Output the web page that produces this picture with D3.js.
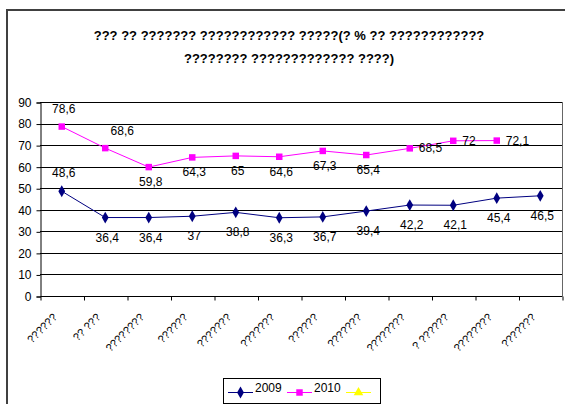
<!DOCTYPE html>
<html><head><meta charset="utf-8">
<script src="https://cdn.jsdelivr.net/npm/d3@7"></script>
<style>body{margin:0;background:#fff}svg{display:block}text{font-family:Arial,"Liberation Sans",sans-serif}</style>
</head><body>
<script>
const titleLines = ["??? ?? ??????? ???????????? ?????(? % ?? ????????????", "???????? ????????????? ????)"];
const categories = ["??????", "?? ???", "????????", "??????", "???????", "???????", "??????", "???????", "????????", "? ??????", "????????", "???????"];
const seriesNames = ["2009", "2010", ""];
const values2009 = [48.6, 36.4, 36.4, 37, 38.8, 36.3, 36.7, 39.4, 42.2, 42.1, 45.4, 46.5];
const values2010 = [78.6, 68.6, 59.8, 64.3, 65, 64.6, 67.3, 65.4, 68.5, 72, 72.1, null];
const values3 = [];
const place2009 = ["above","below","below","below","below","below","below","below","below","below","below","below"];
const place2010 = ["above","aboveright","below","below","below","below","below","below","right","right","right",null];
const yTicks = [0,10,20,30,40,50,60,70,80,90];

const W = 565, H = 404;
const svg = d3.select("body").append("svg").attr("width", W).attr("height", H);
// outer chart border
svg.append("rect").attr("x", 7).attr("y", 10).attr("width", 600).attr("height", 450)
  .attr("fill", "#fff").attr("stroke", "#404040").attr("stroke-width", 2);

svg.selectAll("text.title").data(titleLines).enter().append("text")
  .attr("x", 289).attr("y", (d,i) => 40 + i*23).attr("text-anchor", "middle")
  .attr("font-weight", "bold").attr("font-size", 13).text(d => d);

const x0 = 40, x1 = 562, yTop = 102, yBot = 296;
const x = d3.scaleBand().domain(categories.map((d,i)=>i)).range([x0, x1]);
const y = d3.scaleLinear().domain([0, 90]).range([yBot, yTop]);
const cx = i => x(i) + x.bandwidth()/2;

// gridlines
svg.append("g").selectAll("line").data(yTicks.filter(t=>t>0)).enter().append("line")
  .attr("x1", x0).attr("x2", x1).attr("y1", d => Math.round(y(d))+0.5).attr("y2", d => Math.round(y(d))+0.5)
  .attr("stroke", "#000").attr("stroke-width", 1);
// right plot border
svg.append("line").attr("x1", x1+0.5).attr("x2", x1+0.5).attr("y1", yTop).attr("y2", yBot)
  .attr("stroke", "#666");

// y axis
const yAxis = d3.axisLeft(y).tickValues(yTicks).tickSize(4).tickPadding(5);
const gy = svg.append("g").attr("transform", `translate(${x0+0.5},0.5)`).call(yAxis);
gy.selectAll("text").attr("font-size", 12).attr("fill", "#000").attr("font-family", "Arial, 'Liberation Sans', sans-serif");
gy.selectAll("line,path").attr("stroke", "#000");

// x axis
const xt = d3.scaleLinear().domain([0, 12]).range([x0, x1]);
const xAxis = d3.axisBottom(xt).tickValues(d3.range(13)).tickSize(4).tickFormat("");
const gx = svg.append("g").attr("transform", `translate(0.5,${Math.round(yBot)+0.5})`).call(xAxis);
gx.selectAll("line,path").attr("stroke", "#000");
gx.select("path").attr("d", `M${x0},0H${x1}`);

svg.append("g").selectAll("text").data(categories).enter().append("text")
  .attr("transform", (d,i) => `translate(${cx(i)-4},318) rotate(-45)`)
  .attr("text-anchor", "end").attr("font-size", 11).attr("fill", "#000").text(d => d);

const colors = ["#000080", "#FF00FF", "#FFFF00"];
const line = d3.line().defined(d => d != null).x((d,i) => cx(i)).y(d => y(d));
const diamond = d3.symbol().type(d3.symbolDiamond).size(40);
const square = d3.symbol().type(d3.symbolSquare).size(42);
const tri = d3.symbol().type(d3.symbolTriangle).size(40);

function drawSeries(vals, color, sym) {
  svg.append("path").datum(vals).attr("d", line).attr("fill", "none").attr("stroke", color).attr("stroke-width", 1);
  svg.append("g").selectAll("path").data(vals.map((v,i)=>({v,i})).filter(d=>d.v!=null)).enter().append("path")
    .attr("d", sym).attr("transform", d => `translate(${cx(d.i)},${y(d.v)})`).attr("fill", color);
}
drawSeries(values2009, colors[0], diamond);
drawSeries(values2010, colors[1], square);

const fmt = v => String(v).replace(".", ",");
function drawLabels(vals, places, belowOff) {
  svg.append("g").selectAll("text").data(vals.map((v,i)=>({v,i,p:places[i]})).filter(d=>d.v!=null)).enter().append("text")
    .attr("font-size", 12).attr("fill", "#000")
    .attr("text-anchor", d => d.p === "right" ? "start" : "middle")
    .attr("x", d => {
      const px = cx(d.i);
      if (d.p === "right") return px + 9;
      if (d.p === "aboveright") return px + 17;
      return px + 2;
    })
    .attr("y", d => {
      const py = y(d.v);
      if (d.p === "above") return py - 14;
      if (d.p === "aboveright") return py - 13;
      if (d.p === "right") return py + 4;
      return py + belowOff + 4;
    })
    .text(d => fmt(d.v));
}
drawLabels(values2009, place2009, 20);
drawLabels(values2010, place2010, 15);

// legend
const lg = svg.append("g");
lg.append("rect").attr("x", 223.5).attr("y", 378.5).attr("width", 157).attr("height", 25)
  .attr("fill", "#fff").attr("stroke", "#000");
const legX = [228, 287, 346];
const syms = [diamond, square, tri];
seriesNames.forEach((n, i) => {
  const g = lg.append("g");
  g.append("line").attr("x1", legX[i]).attr("x2", legX[i]+25).attr("y1", 392.5).attr("y2", 392.5).attr("stroke", colors[i]);
  g.append("path").attr("d", syms[i]).attr("transform", `translate(${legX[i]+12.5},392.5)`).attr("fill", colors[i]);
  if (n) g.append("text").attr("x", legX[i]+27).attr("y", 392).attr("font-size", 12).attr("fill", "#000").text(n);
});
</script>
</body></html>
